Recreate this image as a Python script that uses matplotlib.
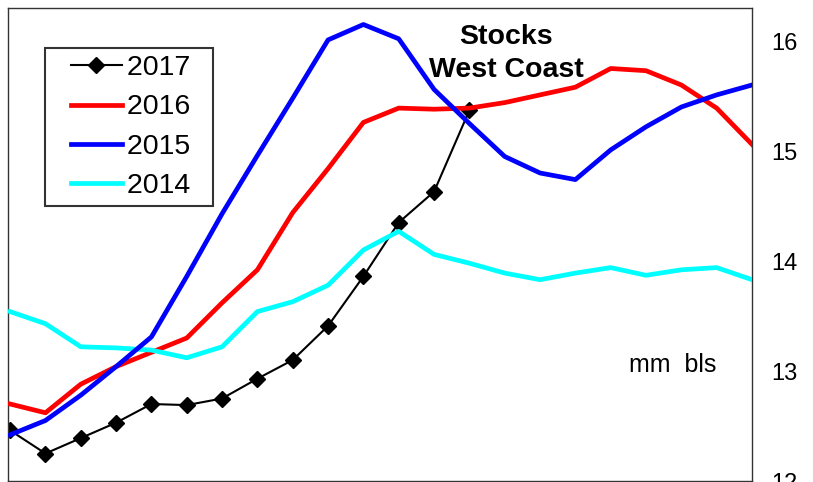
"""Weekly West Coast stocks, 2014-2017 comparison."""

import matplotlib

matplotlib.use("Agg")
import matplotlib.pyplot as plt
import numpy as np
from matplotlib.legend_handler import HandlerLine2D

plt.rcParams["font.family"] = ["Liberation Sans", "DejaVu Sans"]

# mm bls, one value per week
stocks_2017 = [12.46, 12.25, 12.39, 12.53, 12.70, 12.69, 12.75, 12.93, 13.10,
               13.41, 13.86, 14.35, 14.63, 15.37]
stocks_2016 = [12.70, 12.62, 12.88, 13.04, 13.17, 13.30, 13.62, 13.92, 14.44,
               14.84, 15.26, 15.39, 15.38, 15.39, 15.44, 15.51, 15.58, 15.75,
               15.73, 15.60, 15.39, 15.06]
stocks_2015 = [12.42, 12.55, 12.78, 13.04, 13.31, 13.86, 14.43, 14.96, 15.48,
               16.01, 16.15, 16.02, 15.56, 15.25, 14.95, 14.80, 14.74, 15.01,
               15.22, 15.40, 15.51, 15.60]
stocks_2014 = [13.54, 13.43, 13.22, 13.21, 13.19, 13.12, 13.22, 13.54, 13.63,
               13.78, 14.10, 14.27, 14.06, 13.98, 13.89, 13.83, 13.89, 13.94,
               13.87, 13.92, 13.94, 13.83]
y_ticks = [12, 13, 14, 15, 16]

fig = plt.figure(figsize=(8.13, 4.82), dpi=100)
ax = fig.add_axes((8 / 813, 1 / 482, 744 / 813, 473 / 482))

# trailing spaces widen the legend box to the original's right padding
ax.plot(np.arange(len(stocks_2017)), stocks_2017, color="black", linewidth=1.5,
        marker="D", markersize=8.5, label="2017  ", zorder=2)
ax.plot(np.arange(len(stocks_2016)), stocks_2016, color="#ff0000", linewidth=3.4,
        label="2016  ", zorder=3)
ax.plot(np.arange(len(stocks_2015)), stocks_2015, color="#0000ff", linewidth=3.4,
        label="2015  ", zorder=4)
ax.plot(np.arange(len(stocks_2014)), stocks_2014, color="#00ffff", linewidth=3.4,
        label="2014  ", zorder=3)

ax.set_xlim(-0.06, 21)
ax.set_ylim(12, 16.3)
ax.set_xticks([])
ax.yaxis.tick_right()
ax.set_yticks(y_ticks)
ax.tick_params(axis="y", length=0, pad=14, labelsize=17)
for spine in ax.spines.values():
    spine.set_color("#333333")
    spine.set_linewidth(1.0)

ax.text(14.05, 15.97, "Stocks", ha="center", va="baseline",
        fontsize=20.5, fontweight="bold")
ax.text(14.05, 15.675, "West Coast", ha="center", va="baseline",
        fontsize=20.5, fontweight="bold")
ax.text(18.76, 12.99, "mm  bls", ha="center", va="baseline", fontsize=18)

legend = ax.legend(loc="upper left", bbox_to_anchor=(37 / 744, 1 - 40 / 473),
                   fontsize=20.5, frameon=True, fancybox=False,
                   handlelength=2.45, handletextpad=0.17, labelspacing=0.47,
                   borderpad=0.25, borderaxespad=0,
                   handler_map={matplotlib.lines.Line2D: HandlerLine2D(xpad=0.65)})
legend.get_frame().set_edgecolor("black")
legend.get_frame().set_linewidth(1.5)

fig.savefig("out.png", dpi=100)
plt.close(fig)
